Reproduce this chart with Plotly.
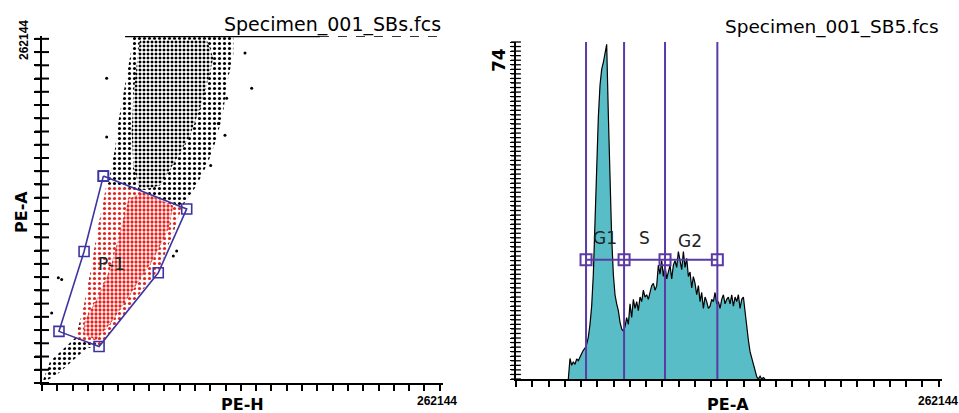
import plotly.graph_objects as go

W, H = 959, 413
FULL = 262144

# ---------------- Left panel: PE-H (x) vs PE-A (y) dot plot ----------------
# Envelope of the whole (sparse) black event cloud
cloud_h = [0, 5230, 21572, 27020, 32467, 36825, 43362, 47720, 49899, 53168, 56436, 58615,
           59705, 125075, 125075, 120717, 118538, 114180, 108732, 101106, 91300, 85853,
           77137, 37915, 29199, 9588]
cloud_a = [0, 16211, 33942, 55473, 88402, 118798, 151727, 177057, 197321, 217585, 237849,
           253047, 262144, 262144, 247981, 225184, 204920, 184656, 166925, 149192, 132729,
           113732, 88402, 27610, 26343, 6079]
# Dense core of the black cloud
core_h = [64063, 59705, 58615, 59705, 61884, 64063, 107643, 112001, 107643, 103285, 96748,
          88032, 77137]
core_a = [145394, 164392, 189722, 215052, 240382, 259379, 259379, 245448, 225184, 207453,
          187189, 169458, 149192]
# Gated (red) events: sparse envelope and dense core
red_h = [42273, 64063, 91300, 77137, 37915, 22662, 27020, 32467, 36825]
red_a = [150460, 145394, 132222, 87136, 28876, 33942, 55473, 88402, 118798]
redcore_h = [27020, 35736, 46631, 59705, 72779, 82584, 85853, 66242, 56436, 50989, 44452,
             35736, 28110]
redcore_a = [36475, 32676, 47874, 70671, 93468, 116265, 133996, 144127, 139061, 113732,
             85869, 63072, 47874]
# Isolated outlier events
out_h = [42273, 42273, 137059, 119627, 110257, 115269, 120717, 10677, 6319, 12856, 88032,
         85853, 132704]
out_a = [230250, 185922, 222651, 187189, 164392, 196054, 215052, 79537, 52940, 78270,
         99801, 96002, 249248]
# Saturated events along the top edge
sat_solid_h = [54300, 181700]
sat_dash_h = [181700, 262144]
# Polygon gate P-1 vertices
gate_h = [40100, 94600, 76000, 37300, 11100, 27500]
gate_a = [156300, 131500, 83300, 27600, 39000, 99300]
gate_label = ("P-1", 45500, 89700)

# ---------------- Right panel: PE-A histogram ----------------
hist_x0 = 32200
hist_dx = 1026
hist_counts = [0, 4.5, 3.0, 3.8, 3.2, 4.4, 4.0, 5.0, 5.6, 6.3, 6.8, 7.6, 9.2, 12.0, 16.0, 23.0,
               35.0, 47.0, 57.5, 64.5, 68.0, 69.5, 72.0, 73.5, 58.0, 43.0, 31.0, 23.0, 18.5,
               16.5, 15.0, 12.5, 11.0, 10.5, 11.5, 13.5, 12.0, 16.5, 13.5, 17.5, 15.5, 17.0,
               15.0, 18.0, 17.0, 19.5, 18.0, 18.5, 17.5, 19.0, 20.5, 21.0, 19.5, 20.5, 25.0,
               23.0, 26.0, 22.5, 25.0, 22.0, 23.5, 25.0, 22.0, 25.0, 26.0, 24.5, 28.0, 25.5,
               24.0, 28.0, 24.5, 26.5, 22.5, 23.5, 20.0, 22.5, 21.0, 18.5, 20.5, 17.0, 19.0,
               15.5, 18.0, 17.0, 15.5, 16.0, 17.5, 17.0, 19.0, 16.5, 17.0, 15.5, 17.5, 18.5,
               16.5, 17.5, 18.0, 16.5, 18.5, 16.0, 18.0, 17.0, 18.5, 15.5, 17.5, 18.0, 14.5,
               11.0, 8.5, 6.0, 4.5, 3.0, 1.5, 0.5, 0, 0.6, 0, 0.3, 0]
hist_ymax = 74
region_bounds = [43100, 66500, 91700, 123900]
region_level = 26.2
region_labels = [("G1", 54800, 31.0), ("S", 78800, 31.0), ("G2", 107100, 30.2)]

# tick grids of the two instruments' axes
channel_ticks = list(range(0, FULL + 1, 10000))
count_ticks = list(range(0, hist_ymax + 1, 1))

GATE_COL = "#3e34a0"
VLINE_COL = "#5b3aa6"
TEAL = "#58bdc6"
RED = "#e3231f"


def px(xp):
    return xp / W


def py(yp):
    return 1 - yp / H


def blob(xs, ys, fg, size, solid, name):
    return go.Scatter(
        x=xs + [xs[0]], y=ys + [ys[0]], mode="lines", fill="toself",
        fillcolor="white", line=dict(width=0, color="rgba(0,0,0,0)"),
        fillpattern=dict(shape=".", fgcolor=fg, bgcolor="white", size=size,
                         solidity=solid, fgopacity=1),
        xaxis="x", yaxis="y", hoverinfo="skip", showlegend=False, name=name)


fig = go.Figure()
fig.add_trace(blob(cloud_h, cloud_a, "black", 5, 0.3, "cloud"))
fig.add_trace(blob(core_h, core_a, "black", 4, 0.44, "core"))
fig.add_trace(blob(red_h, red_a, RED, 5, 0.32, "red"))
fig.add_trace(blob(redcore_h, redcore_a, RED, 4, 0.52, "redcore"))
fig.add_trace(go.Scatter(x=out_h, y=out_a, mode="markers",
                         marker=dict(size=3, color="black"), xaxis="x", yaxis="y",
                         showlegend=False, hoverinfo="skip"))
fig.add_trace(go.Scatter(x=sat_solid_h, y=[FULL, FULL], mode="lines",
                         line=dict(color="black", width=2.5), xaxis="x", yaxis="y",
                         showlegend=False, hoverinfo="skip", cliponaxis=False))
fig.add_trace(go.Scatter(x=sat_dash_h, y=[FULL, FULL], mode="lines",
                         line=dict(color="#333", width=2, dash="dash"), xaxis="x", yaxis="y",
                         showlegend=False, hoverinfo="skip", cliponaxis=False))
fig.add_trace(go.Scatter(x=gate_h + [gate_h[0]], y=gate_a + [gate_a[0]], mode="lines+markers",
                         line=dict(color=GATE_COL, width=1.6),
                         marker=dict(symbol="square-open", size=10, color=GATE_COL,
                                     line=dict(width=1.6)),
                         xaxis="x", yaxis="y", showlegend=False, hoverinfo="skip"))

# histogram
fig.add_trace(go.Scatter(x0=hist_x0, dx=hist_dx, y=hist_counts, mode="lines", fill="tozeroy",
                         fillcolor=TEAL, line=dict(color="black", width=1.2),
                         xaxis="x2", yaxis="y2", showlegend=False, hoverinfo="skip"))
for b in region_bounds:
    fig.add_shape(type="line", xref="x2", yref="y2", x0=b, x1=b, y0=0, y1=hist_ymax,
                  line=dict(color=VLINE_COL, width=2))
fig.add_trace(go.Scatter(x=region_bounds, y=[region_level] * len(region_bounds),
                         mode="lines+markers", line=dict(color=VLINE_COL, width=2),
                         marker=dict(symbol="square-open", size=11, color=VLINE_COL,
                                     line=dict(width=2)),
                         xaxis="x2", yaxis="y2", showlegend=False, hoverinfo="skip"))

# vertical-axis ruler ticks (crossing the axis line, as in the instrument software)
fig.add_trace(go.Scatter(x=[0] * len(channel_ticks), y=channel_ticks, mode="markers",
                         marker=dict(symbol="line-ew-open", size=10, color="black",
                                     line=dict(color="black", width=2)),
                         xaxis="x", yaxis="y", cliponaxis=False, showlegend=False,
                         hoverinfo="skip"))
fig.add_trace(go.Scatter(x=[0] * len(count_ticks), y=count_ticks, mode="markers",
                         marker=dict(symbol="line-ew-open", size=7, color="black",
                                     line=dict(color="black", width=1.3)),
                         xaxis="x2", yaxis="y2", cliponaxis=False, showlegend=False,
                         hoverinfo="skip"))

axis_common = dict(showgrid=False, zeroline=False, showline=True, linecolor="black",
                   linewidth=2, ticks="outside", tickcolor="black",
                   showticklabels=False, tickmode="array")

fig.update_layout(
    width=W, height=H, margin=dict(l=0, r=0, t=0, b=0),
    paper_bgcolor="white", plot_bgcolor="white",
    xaxis=dict(domain=[px(42), px(443)], range=[0, FULL], tickvals=channel_ticks,
               ticklen=6, tickwidth=2, anchor="y", **axis_common),
    yaxis=dict(domain=[py(383), py(36)], range=[0, FULL], tickvals=channel_ticks,
               ticklen=6, tickwidth=2, anchor="x", **axis_common),
    xaxis2=dict(domain=[px(516), px(942)], range=[0, FULL], tickvals=channel_ticks,
                ticklen=6, tickwidth=2, anchor="y2", **axis_common),
    yaxis2=dict(domain=[py(379), py(42)], range=[0, hist_ymax], tickvals=count_ticks,
                ticklen=4, tickwidth=1.2, anchor="x2", **axis_common),
)

ann = []
TF = "DejaVu Sans, Verdana, sans-serif"
NF = "Liberation Sans, Arial, sans-serif"


def lab(text, x, y, size, family=TF, angle=0, xanchor="center"):
    return dict(text=text, x=px(x), y=py(y), xref="paper", yref="paper",
                xanchor=xanchor, yanchor="middle", showarrow=False, textangle=angle,
                font=dict(family=family, size=size, color="black"))


ann.append(lab("Specimen_001_SBs.fcs", 443, 25, 19, xanchor="right"))
ann.append(lab("Specimen_001_SB5.fcs", 941, 27, 18.5, xanchor="right"))
ann.append(lab("<b>PE-H</b>", 242, 404, 16))
ann.append(lab("<b>PE-A</b>", 21, 212, 16, angle=-90))
ann.append(lab("<b>PE-A</b>", 728, 404, 16))
ann.append(lab("<b>262144</b>", 437, 401, 12, family=NF))
ann.append(lab("<b>262144</b>", 24, 40, 12, family=NF, angle=-90))
ann.append(lab("<b>262144</b>", 938, 401, 12, family=NF))
ann.append(lab("<b>74</b>", 499, 60, 17, angle=-90))
ann.append(dict(text=gate_label[0], x=gate_label[1], y=gate_label[2], xref="x", yref="y",
                xanchor="center", yanchor="middle",
                showarrow=False, font=dict(family=TF, size=17, color="#222")))
for t, xv, yv in region_labels:
    ann.append(dict(text=t, x=xv, y=yv, xref="x2", yref="y2", showarrow=False,
                    xanchor="center", yanchor="middle",
                    font=dict(family=TF, size=17, color="#222")))
fig.update_layout(annotations=ann)

fig.write_html("out.html")
